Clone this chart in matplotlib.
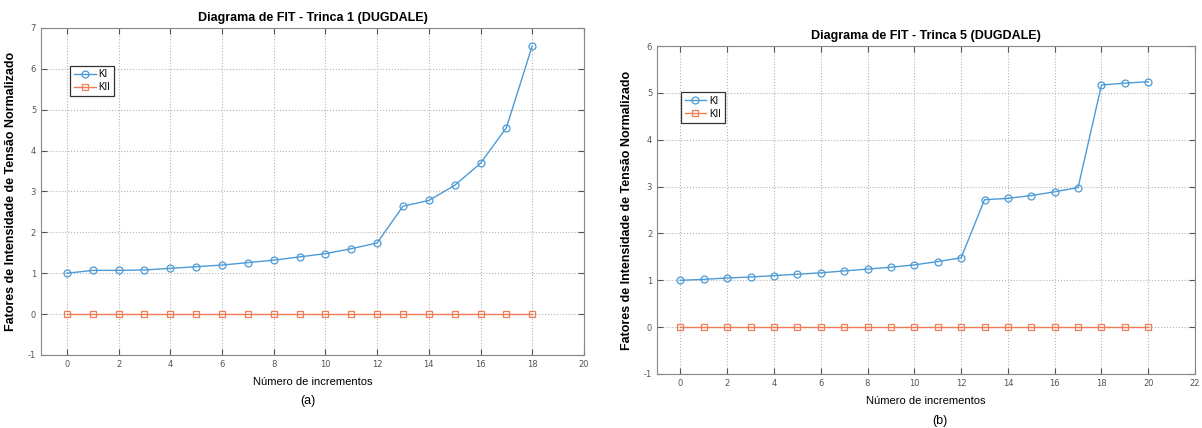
import matplotlib.pyplot as plt

plt.rcParams['axes.unicode_minus'] = False

# ---- data ----
inc_a = list(range(19))
ki_a = [1.00, 1.07, 1.07, 1.08, 1.12, 1.16, 1.20, 1.26, 1.32, 1.40, 1.48,
        1.60, 1.74, 2.64, 2.78, 3.15, 3.69, 4.56, 6.56]
kii_a = [0.0] * 19

inc_b = list(range(21))
ki_b = [1.00, 1.02, 1.05, 1.07, 1.10, 1.13, 1.16, 1.20, 1.24, 1.28, 1.33,
        1.40, 1.48, 2.72, 2.75, 2.81, 2.89, 2.98, 5.17, 5.21, 5.24]
kii_b = [0.0] * 21

titles = ["Diagrama de FIT - Trinca 1 (DUGDALE)", "Diagrama de FIT - Trinca 5 (DUGDALE)"]
captions = ["(a)", "(b)"]
ylabel = "Fatores de Intensidade de Tensão Normalizado"
xlabel = "Número de incrementos"

BLUE = "#4d9bd6"
ORANGE = "#ec7d55"
SANS = ["Liberation Sans", "DejaVu Sans"]

fig = plt.figure(figsize=(12.02, 4.28), dpi=100)


def draw(rect, x, ki, kii, xlim, ylim, xticks, yticks, title, leg_anchor):
    ax = fig.add_axes(rect)
    ax.plot(x, ki, color=BLUE, lw=1, marker="o", ms=5, mfc="none", mew=0.9, label="KI")
    ax.plot(x, kii, color=ORANGE, lw=1, marker="s", ms=4.5, mfc="none", mew=0.9, label="KII")
    ax.set_xlim(*xlim)
    ax.set_ylim(*ylim)
    ax.set_xticks(xticks)
    ax.set_yticks(yticks)
    ax.grid(True, ls=":", color="#b5b5b5", lw=0.8)
    ax.tick_params(direction="in", top=True, right=True, labelsize=6,
                   colors="#555555", length=4, width=0.8)
    for s in ax.spines.values():
        s.set_color("#888888")
        s.set_linewidth(0.8)
    ax.set_title(title, fontsize=9, fontweight="bold", family=SANS, pad=5)
    ax.set_xlabel(xlabel, fontsize=8, family=SANS, labelpad=6)
    ax.set_ylabel(ylabel, fontsize=9, fontweight="bold", family=SANS, labelpad=8)
    leg = ax.legend(loc="upper left", bbox_to_anchor=leg_anchor,
                    handlelength=2.2, borderpad=0.4, labelspacing=0.3,
                    handletextpad=0.3, fancybox=False, framealpha=1,
                    prop={"family": SANS, "size": 7})
    leg.get_frame().set_edgecolor("#333333")
    leg.get_frame().set_linewidth(0.9)
    return ax


draw([0.0341, 0.1706, 0.4517, 0.764], inc_a, ki_a, kii_a, (-1, 20), (-1, 7),
     range(0, 21, 2), range(-1, 8), titles[0], (0.045, 0.9))
draw([0.5466, 0.1262, 0.4476, 0.766], inc_b, ki_b, kii_b, (-1, 22), (-1, 6),
     range(0, 23, 2), range(-1, 7), titles[1], (0.035, 0.875))

fig.text(308 / 1202, 1 - 401 / 428, captions[0], ha="center", va="center",
         fontsize=9, family=SANS)
fig.text(940 / 1202, 1 - 421 / 428, captions[1], ha="center", va="center",
         fontsize=9, family=SANS)

fig.savefig("out.png", dpi=100, facecolor="white")
